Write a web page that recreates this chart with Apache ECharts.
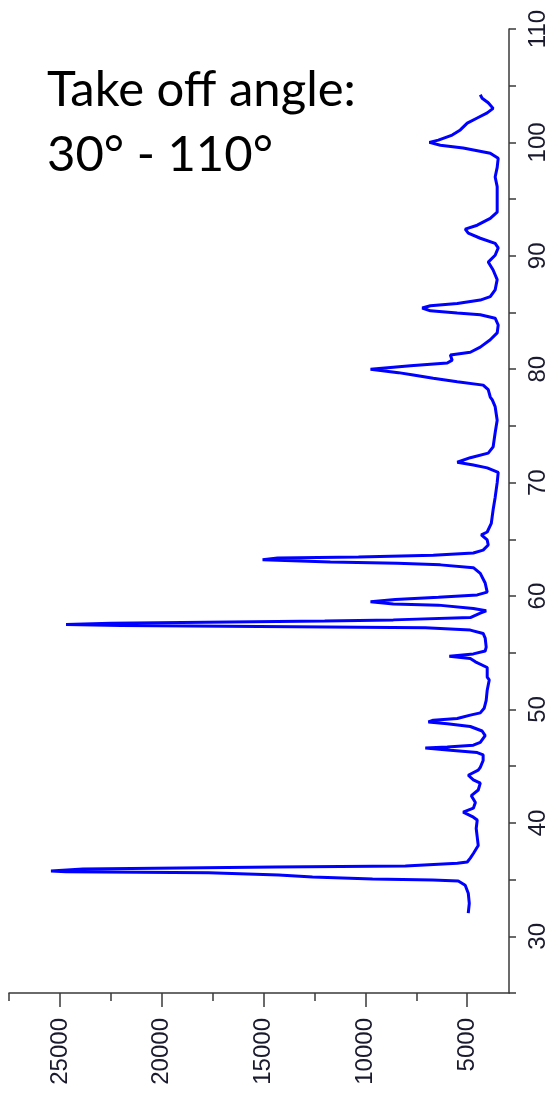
<!DOCTYPE html>
<html>
<head>
<meta charset="utf-8">
<script src="https://cdn.jsdelivr.net/npm/echarts@6/dist/echarts.min.js"></script>
<style>
html,body{margin:0;padding:0;background:#fff;}
#c{width:545px;height:1096px;}
</style>
</head>
<body>
<div id="c"></div>
<script>
// Diffraction angle (degrees) and intensity (counts)
const angle = [32.05,32.9,33.8,34.5,34.87,34.96,35.05,35.22,35.4,35.6,35.7,35.75,35.93,36.1,36.2,36.45,36.55,36.9,37.3,38.0,38.75,39.5,40.25,40.5,40.95,41.3,41.8,42.4,42.9,43.5,43.8,44.2,44.65,44.9,45.5,46.0,46.2,46.4,46.6,46.7,46.85,47.1,47.7,48.1,48.5,48.75,48.9,49.05,49.2,49.5,49.7,50.1,50.8,51.7,52.6,52.85,53.7,54.2,54.5,54.7,54.9,55.15,55.5,56.3,56.7,57.0,57.2,57.3,57.4,57.5,57.6,57.8,57.9,58.1,58.5,58.7,58.9,59.2,59.3,59.5,59.7,59.9,60.1,60.35,61.15,62.0,62.5,62.75,62.9,63.0,63.2,63.35,63.45,63.6,63.8,64.05,64.5,64.95,65.4,65.65,66.4,67.6,68.7,70.0,70.9,71.3,71.55,71.8,72.2,72.6,73.15,74.4,75.5,76.7,77.3,77.55,78.2,78.6,78.9,79.2,79.5,79.7,80.0,80.3,80.55,80.8,81.25,81.5,81.95,82.6,83.2,83.9,84.5,84.8,84.95,85.15,85.4,85.6,85.8,86.1,86.4,87.0,87.9,88.75,89.45,90.05,90.7,91.1,91.55,92.0,92.35,92.7,93.3,93.85,94.9,96.1,96.95,97.8,98.6,99.05,99.5,99.75,100.0,100.2,100.65,101.1,101.7,102.15,102.6,103.0,103.5,103.9,104.2];
const intensity = [4950,4900,4950,5100,5440,6700,9650,12600,14260,17700,24700,25440,23870,14410,8040,5490,5000,4850,4700,4460,4510,4560,4510,4700,5200,4700,4600,4800,4460,4360,4700,4950,4460,4360,4220,4220,4510,5830,7060,5980,4700,4360,4120,4270,4850,5980,6910,6670,5490,4850,4360,4170,4070,4020,3920,4020,4020,4600,4850,5880,4700,4120,4070,4120,4220,4850,7060,13530,22000,24700,22500,12000,8630,4850,4360,4070,4700,6420,8630,9750,8530,6420,4510,4020,4120,4360,4700,6320,8430,11720,15050,14310,10340,6670,4700,4220,3970,4020,4310,4020,3820,3730,3630,3530,3480,4020,4700,5490,4850,3970,3730,3630,3530,3630,3770,3870,3970,4220,5490,6670,7650,8380,9750,7790,5980,5740,5830,4850,4360,3870,3530,3480,3630,4360,5490,6810,7210,6810,5490,4360,3870,3630,3530,3730,3970,3630,3480,3630,4360,4950,5100,4510,3870,3530,3530,3530,3630,3530,3480,3870,5200,6320,6860,6420,5740,5340,5000,4510,4020,3730,3970,4270,4360];

const intensityMajorTicks = [5000,10000,15000,20000,25000];
const intensityMinorTicks = [7500,12500,17500,22500,27500];
const angleTicks = [30,40,50,60,70,80,90,100,110];
const titleLines = ['Take off angle:', '30\u00b0 - 110\u00b0'];

const pts = angle.map((a,i)=>[intensity[i], a]);

const chart = echarts.init(document.getElementById('c'), null, {renderer:'canvas'});
const axisCol = '#3a3a3a';
function lbl(extra){
  return Object.assign({
    show:true, rotate:90,
    fontFamily:'Liberation Sans', fontSize:24, fontWeight:'normal',
    color:'#1a1a2e',
    formatter:function(v){return String(Math.round(v));}
  }, extra);
}
chart.setOption({
  animation:false,
  backgroundColor:'#ffffff',
  grid:{left:9, right:36, top:29, bottom:103, containLabel:false, outerBoundsMode:'none'},
  xAxis:[{
    type:'value', inverse:true, min:2950, max:27500, position:'bottom',
    splitLine:{show:false},
    axisLine:{show:true, lineStyle:{color:axisCol, width:1.5}},
    axisTick:{show:true, length:14, customValues:intensityMajorTicks, lineStyle:{color:axisCol, width:1.5}},
    axisLabel:lbl({margin:25, customValues:intensityMajorTicks})
  },{
    type:'value', inverse:true, min:2950, max:27500, position:'bottom',
    splitLine:{show:false},
    axisLine:{show:false},
    axisTick:{show:true, length:8, customValues:intensityMinorTicks, lineStyle:{color:axisCol, width:1.5}},
    axisLabel:{show:false}
  }],
  yAxis:{
    type:'value', position:'right', min:25, max:110, interval:5,
    splitLine:{show:false},
    axisLine:{show:true, lineStyle:{color:axisCol, width:1.5}},
    axisTick:{show:true, length:7, lineStyle:{color:axisCol, width:1.5}},
    axisLabel:lbl({margin:17, customValues:angleTicks})
  },
  graphic:[
    {type:'text', left:47, top:66, style:{text:titleLines[0], fontFamily:'Lato, sans-serif', fontSize:49, fill:'#000'}},
    {type:'text', left:47, top:131, style:{text:titleLines[1], fontFamily:'Lato, sans-serif', fontSize:49, fill:'#000'}}
  ],
  series:[{
    type:'line', xAxisIndex:0, yAxisIndex:0, data:pts, showSymbol:false,
    lineStyle:{color:'#0000ff', width:3}, clip:false
  }]
});
</script>
</body>
</html>
